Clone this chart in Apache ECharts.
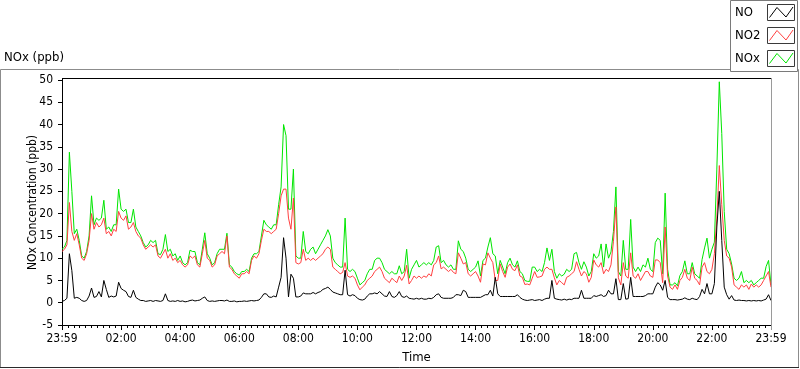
<!DOCTYPE html>
<html><head><meta charset="utf-8">
<script src="https://cdn.jsdelivr.net/npm/echarts@6/dist/echarts.min.js"></script>
<style>html,body{margin:0;padding:0;background:#fff}#c{width:800px;height:369px}</style>
</head><body><div id="c"></div>
<script>
// minutes after 23:59 of previous day, sampled every STEP minutes
const STEP = 5;
const xTickLabels = ['23:59','02:00','04:00','06:00','08:00','10:00','12:00','14:00','16:00','18:00','20:00','22:00','23:59'];
const yTicks = [-5, 50, 5]; // min, max, interval
const seriesNames = ['NO', 'NO2', 'NOx'];
const seriesColors = ['#000000', '#ff4040', '#00e600'];

const NO2 = [
11.5,12,13,22.5,16,14,15.5,13,10,9.5,11,14,
20,16.5,18,17,17.5,19,15.5,16,15,16.5,16,20.5,
19,18.5,19.5,16.5,17,18,16,15,14.5,13,12,12.5,
13,12.5,13,10.5,10,11,12,10,11,9.5,10,9,
9.5,8.5,8,8.5,10.5,10,10.5,8.5,8,11,14,10,
9.5,8,8.5,10.5,11,11.5,11,15,8,7.5,6.5,6,
5.5,6.5,6.5,7,6.5,9.5,10.5,10,11,14,16.5,16,
16,15.5,16,16.5,20,24,25.5,25.5,19,16.5,23.5,9,
8.7,9,12,9.5,10,9.5,10,9.5,10,10.5,11,12,
12.5,12,8,7.5,7,6.5,6.8,9,6,5.7,6,5.5,
4,2.9,3.5,4,5,5.5,6,7,7.5,8,7,5.5,
5,4.5,5.5,5,4.5,6,5,6,8.4,4.2,5,6,
5.5,6,5.5,6,5.7,6.5,6,8.5,9,10.5,7.6,8,
7.5,7,7.5,6.8,6.5,11.2,10,8.7,9,6.5,6,6.5,
7,6,4.6,8.7,8.5,11.2,10,9,5,5,8.7,7,
5.7,8,8.7,7.5,7.2,8.5,6,5.7,4.1,4.2,4,5.5,
7,5.7,5.8,6,7.5,8,7.5,7.5,5.6,4,5,4.5,
4,5.7,6,6.5,7,9.2,7.5,6,7,6.5,4.6,5.7,
9.6,8.5,8,9,6.5,7.5,7,8.5,13.8,21.5,5.6,4,
9,6,5.5,11.2,6,5.5,6.5,5,6,7,7,6,
5.7,9.6,9.6,9,4.5,17,6,3.5,3,4,3,5,
5.7,7.5,5.5,5,8,5.5,5,4,8,9,7,6.5,
7.5,11,19,30.8,22,14,10.5,10,8,4,3.5,3,
4,3.5,4,3,4.2,3.5,4,3.5,4,5,6,7,
3.5];

const NOx = [
12,12.5,14,33.8,25,15.5,16.5,14,10.5,10,11.5,15,
24,17.5,19,18.5,19,23,16.5,17,16,17.5,17.5,25.5,
21,20.5,21,18,18,21,17,16,15,13.5,12.5,13,
14,13.5,14,11,10.8,12,15.3,11.5,12,10.5,11,9.5,
10.5,9,8.5,9,11.8,11.5,11.5,9,8.5,12,15.7,11,
10,8.5,9,11,12,12,12,15.6,8.5,8,7,6.5,
6.2,7,7,7.5,7,10,11,11,11.5,15,18.5,17.5,
17,16.5,17.5,17.5,22,26,40,37.5,21,21,30,10.5,
10,10,16,11.5,11,12,12.5,11,12,13,14,15,
16.4,15,10,9,8.5,8,8,19,7.5,7,7.5,7,
5.5,4,4.5,5,6.5,7.5,7.5,9.5,10,10,9,7.5,
7,6.5,7,6.5,6.5,8.3,6.5,7,12,5.5,7.5,8.5,
9.5,8,8.5,9,8.5,9,8.5,9.5,12.5,12.8,9,9.5,
8.5,8,8.5,7.5,7.5,13.9,12,11.5,10,7.5,7,7.5,
8,9.4,6,9.5,10,12.5,14.6,11,10.5,6.5,9.5,8,
6.5,9,10,8.5,8,9.4,7,6.5,5,4.8,4.8,8,
8,7,7.5,7,9,12.3,9.5,12,7,5.5,6.5,6,
6.4,7.5,7,7.5,11,11.3,9,7.5,9.2,8,6,7,
11,10,10.5,13.2,8,13.2,10,11.4,16,26,7,6,
14,7.5,7.5,18.7,8,7,8,7,8.5,8,10,7.5,
7,13.5,14.5,14,6.5,24.6,7.5,4,4,4.5,3.8,6.1,
7,9.4,6.5,6.5,9,6.5,6,5.5,9.7,12.3,14.5,10,
12,13.6,30,49.6,38,20.5,12,11,8.7,5.5,5,5.5,
7,4.5,5,4.5,5,4,4.5,5,5.5,5.5,8.1,9.5,
4];

const NO = [
0.3,0.5,1,11,7.2,1,1.2,1,0.5,0.3,0.5,1.5,
3.3,1.2,1.4,2.5,1.3,5,3,1.2,1.5,1.3,1.5,4.6,
3.2,2.8,2.5,1.4,1.2,2.8,1.2,0.8,0.5,0.5,0.3,0.4,
0.5,0.3,0.5,0.4,0.3,0.5,2,0.5,0.3,0.4,0.3,0.5,
0.3,0.4,0.2,0.3,0.5,0.6,0.4,0.5,0.6,1,1.3,0.5,
0.3,0.4,0.3,0.4,0.5,0.5,0.4,0.6,0.3,0.3,0.4,0.2,
0.3,0.3,0.4,0.3,0.4,0.5,0.4,0.5,0.6,1.2,2,2,
1.3,1.2,1.5,1.3,3.5,5.7,14.6,10,1.3,6.4,5.5,1.3,
1.3,1.5,2.2,2,2,2,2.3,2,2.3,2.5,3,3.2,
3.5,3,2.4,2.2,2,1.8,1.8,7.3,1.8,1.5,1.8,1.6,
1,0.7,0.6,0.8,1.5,2,2,2.2,2,2.5,2,1.5,
1.4,2.5,1.4,1.2,1.6,2.5,1.4,1.2,1.5,1,0.9,0.8,
1,0.8,1,0.8,0.8,1,0.9,1.2,1.8,2,1.2,1,
1,1,1,1.2,1.8,1.8,1.6,2.8,2.5,1.2,1.2,1.2,
1.2,1.2,1.2,1.5,1.8,1.8,2.8,1.5,5.7,2,1.4,1.4,
1.4,1.4,1.4,1.4,1.4,1.8,1.2,0.8,0.6,0.5,0.6,0.7,
0.5,0.6,0.7,0.5,0.8,1,1,5,1,0.8,0.7,0.6,
0.8,0.6,0.8,0.7,1,1,1,2.8,1,1,1,1,
1.6,1.4,1.6,1.8,1.4,1.6,2.8,2,2,5.4,0.7,0.7,
4.3,0.8,0.9,5.7,1.4,1.4,1.4,1.4,1.4,1.6,2,2,
2,3.5,4.5,4,2.8,5,1.2,0.7,0.7,0.7,0.6,0.7,
0.8,1.1,0.8,0.7,1,0.8,0.7,1.4,3,2,4.3,2,
2,4.3,17,25,14,3.5,1.8,0.8,1.6,0.6,0.5,0.6,
0.5,0.5,0.4,0.5,0.4,0.5,0.4,0.5,0.4,0.6,0.8,1.8,
0.5];

const FONT = "'DejaVu Sans Condensed', 'DejaVu Sans', sans-serif";
const FS = 12;
const toPairs = arr => arr.map((v, i) => [i * STEP, v]);
const dataByName = { NO: NO, NO2: NO2, NOx: NOx };

const chart = echarts.init(document.getElementById('c'), null, { renderer: 'canvas' });

function swatch(y, color) {
  return [
    { type: 'rect', shape: { x: 767.5, y: y + 0.5, width: 27, height: 16 },
      style: { fill: '#fff', stroke: '#3a3a3a', lineWidth: 1 }, z: 101 },
    { type: 'polyline', shape: { points: [[769.5, y + 13.5], [777, y + 3.5], [786, y + 13], [793, y + 3]] },
      style: { fill: 'none', stroke: color, lineWidth: 1 }, z: 102 }
  ];
}

const graphics = [
  { type: 'rect', shape: { x: 0.5, y: 69.5, width: 798, height: 298 },
    style: { fill: 'none', stroke: '#8c8c8c', lineWidth: 1 }, z: 50 },
  { type: 'line', shape: { x1: 0, y1: 367.5, x2: 799, y2: 367.5 },
    style: { stroke: '#2a2a2a', lineWidth: 1 }, z: 51 },
  { type: 'rect', shape: { x: 730.5, y: 0.5, width: 67, height: 71 },
    style: { fill: '#fff', stroke: '#7a7a7a', lineWidth: 1 }, z: 100 },
  { type: 'text', x: 735, y: 13, style: { text: seriesNames[0], font: '13px ' + FONT, fill: '#000', textVerticalAlign: 'middle' }, z: 101 },
  { type: 'text', x: 735, y: 36, style: { text: seriesNames[1], font: '13px ' + FONT, fill: '#000', textVerticalAlign: 'middle' }, z: 101 },
  { type: 'text', x: 735, y: 59, style: { text: seriesNames[2], font: '13px ' + FONT, fill: '#000', textVerticalAlign: 'middle' }, z: 101 },
  ...swatch(4, seriesColors[0]),
  ...swatch(27, seriesColors[1]),
  ...swatch(50, seriesColors[2]),
  { type: 'text', x: 4, y: 58, style: { text: 'NOx (ppb)', font: '13px ' + FONT, fill: '#000', textVerticalAlign: 'middle' }, z: 101 },
  { type: 'line', shape: { x1: 62, y1: 78.5, x2: 772, y2: 78.5 }, style: { stroke: '#000', lineWidth: 1 }, z: 60 },
  { type: 'line', shape: { x1: 62.5, y1: 78, x2: 62.5, y2: 81 }, style: { stroke: '#000', lineWidth: 1 }, z: 60 },
  { type: 'line', shape: { x1: 771.5, y1: 78, x2: 771.5, y2: 330 }, style: { stroke: '#9a9a9a', lineWidth: 1 }, z: 60 }
];

const order = ['NOx', 'NO2', 'NO'];
chart.setOption({
  animation: false,
  backgroundColor: '#fff',
  textStyle: { fontFamily: FONT },
  grid: { left: 62, right: 29, top: 80, bottom: 40, containLabel: false },
  xAxis: {
    type: 'value', min: 0, max: 1440, interval: 120,
    name: 'Time', nameLocation: 'middle', nameGap: 26, nameMoveOverlap: false,
    nameTextStyle: { color: '#000', fontSize: FS + 1, fontFamily: FONT },
    axisLine: { show: true, onZero: false, lineStyle: { color: '#000', width: 1 } },
    axisTick: { show: true, length: 5, lineStyle: { color: '#000' } },
    minorTick: { show: true, splitNumber: 10, length: 3, lineStyle: { color: '#000' } },
    splitLine: { show: false },
    axisLabel: { color: '#000', fontSize: FS, fontFamily: FONT, margin: 8,
      formatter: v => xTickLabels[Math.round(v / 120)] || '' }
  },
  yAxis: {
    type: 'value', min: yTicks[0], max: yTicks[1], interval: yTicks[2],
    name: 'NOx Concentration (ppb)', nameLocation: 'middle', nameGap: 23, nameMoveOverlap: false,
    nameTextStyle: { color: '#000', fontSize: FS, fontFamily: FONT },
    axisLine: { show: true, lineStyle: { color: '#000', width: 1 } },
    axisTick: { show: true, length: 4, lineStyle: { color: '#000' } },
    splitLine: { show: false },
    axisLabel: { color: '#000', fontSize: FS, fontFamily: FONT, margin: 9 }
  },
  series: order.map(n => ({
    name: n, type: 'line', showSymbol: false, symbol: 'none',
    data: toPairs(dataByName[n]),
    lineStyle: { color: seriesColors[seriesNames.indexOf(n)], width: 1 },
    itemStyle: { color: seriesColors[seriesNames.indexOf(n)] },
    sampling: null
  })),
  graphic: graphics
});
</script></body></html>
